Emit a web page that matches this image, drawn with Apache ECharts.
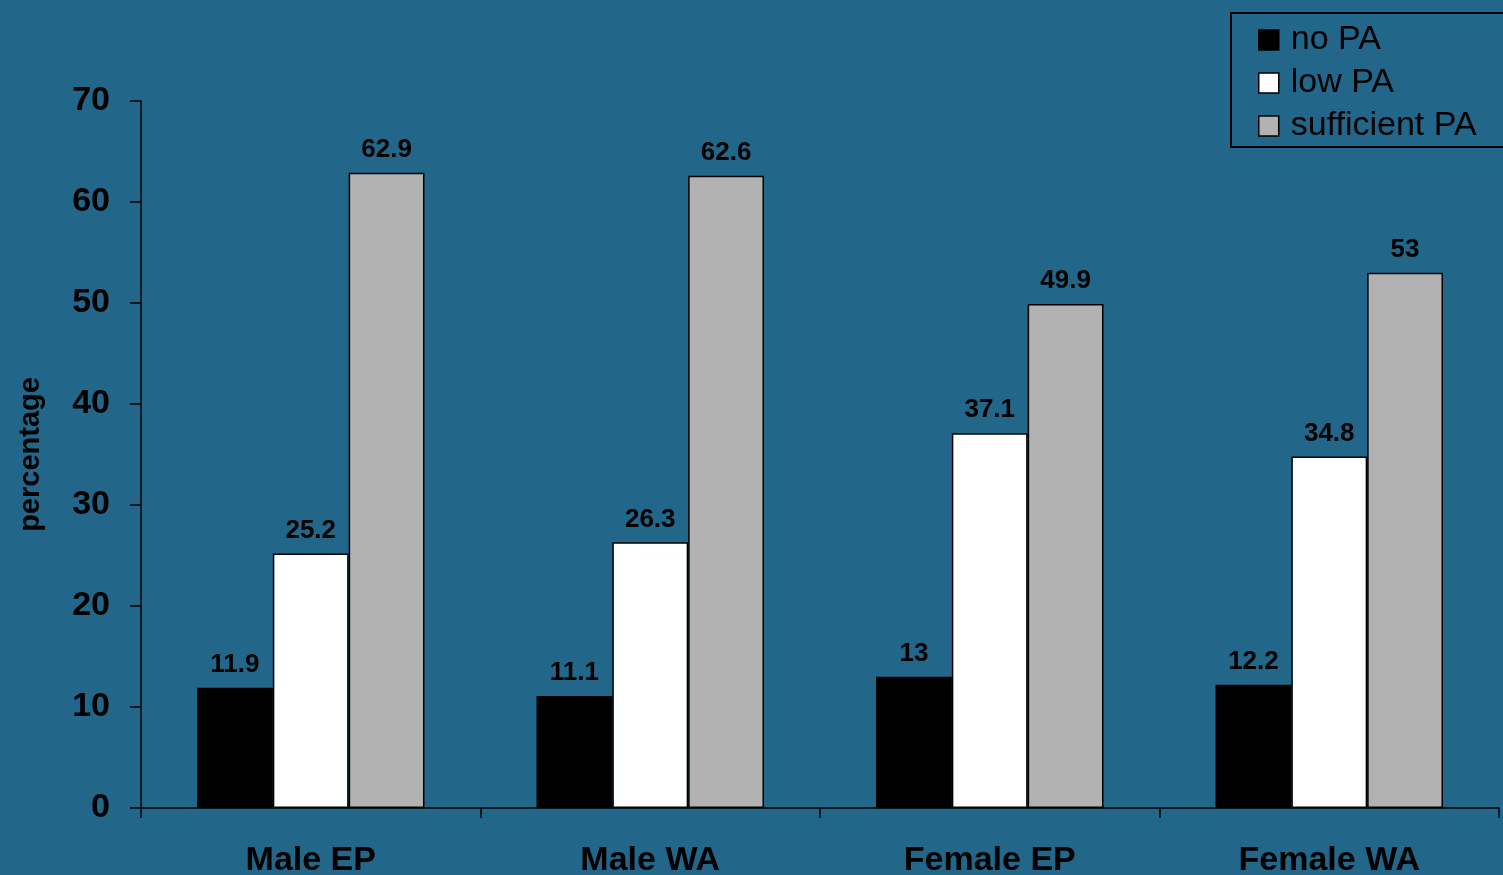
<!DOCTYPE html>
<html>
<head>
<meta charset="utf-8">
<script src="https://cdn.jsdelivr.net/npm/echarts@6/dist/echarts.min.js"></script>
<style>
html,body{margin:0;padding:0;background:#22678a;}
#c{width:1503px;height:875px;}
</style>
</head>
<body>
<div id="c"></div>
<script>
const categories = ['Male EP', 'Male WA', 'Female EP', 'Female WA'];
const noPA = [11.9, 11.1, 13, 12.2];
const lowPA = [25.2, 26.3, 37.1, 34.8];
const sufficientPA = [62.9, 62.6, 49.9, 53];
const seriesNames = ['no PA', 'low PA', 'sufficient PA'];
const yTicks = { min: 0, max: 70, interval: 10 };

const FONT = '"Liberation Sans", Arial, sans-serif';
const chart = echarts.init(document.getElementById('c'), null, { renderer: 'canvas' });

function mk(name, data, color) {
  return {
    name: name,
    type: 'bar',
    data: data,
    barGap: '0%',
    barCategoryGap: '33%',
    itemStyle: { color: color, borderColor: '#000', borderWidth: 1.5 },
    label: {
      show: true, position: 'top', distance: 10,
      color: '#000', fontWeight: 'bold', fontSize: 26, fontFamily: FONT
    }
  };
}

chart.setOption({
  backgroundColor: '#22678a',
  animation: false,
  grid: { left: 141, right: 4, top: 101, bottom: 67, containLabel: false, outerBoundsMode: 'none' },
  legend: {
    orient: 'vertical',
    left: 1231, top: 13,
    padding: [10, 40, 4, 27],
    borderColor: '#000', borderWidth: 2,
    itemWidth: 20, itemHeight: 20,
    itemGap: 9,
    icon: 'rect',
    itemStyle: { borderColor: '#000', borderWidth: 1.5 },
    textStyle: { color: '#000', fontSize: 34, fontFamily: FONT, padding: [0, 0, 0, 7], lineHeight: 34 },
    data: seriesNames
  },
  xAxis: {
    type: 'category',
    data: categories,
    axisLine: { lineStyle: { color: '#000', width: 1.5 } },
    axisTick: { show: true, length: 10, lineStyle: { color: '#000', width: 1.5 } },
    axisLabel: { color: '#000', fontWeight: 'bold', fontSize: 34, fontFamily: FONT, margin: 36 }
  },
  yAxis: {
    type: 'value',
    min: yTicks.min, max: yTicks.max, interval: yTicks.interval,
    name: 'percentage',
    nameLocation: 'middle',
    nameGap: 96,
    nameRotate: 90,
    nameTextStyle: { color: '#000', fontWeight: 'bold', fontSize: 29, fontFamily: FONT },
    axisLine: { show: true, lineStyle: { color: '#000', width: 1.5 } },
    axisTick: { show: true, length: 11, lineStyle: { color: '#000', width: 1.5 } },
    splitLine: { show: false },
    axisLabel: { color: '#000', fontWeight: 'bold', fontSize: 34, fontFamily: FONT, margin: 31 }
  },
  series: [
    mk(seriesNames[0], noPA, '#000000'),
    mk(seriesNames[1], lowPA, '#ffffff'),
    mk(seriesNames[2], sufficientPA, '#b2b2b2')
  ]
});
</script>
</body>
</html>
